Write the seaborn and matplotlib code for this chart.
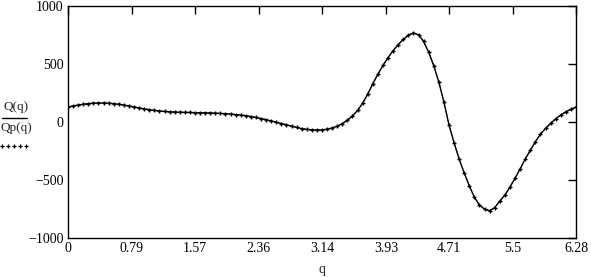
import numpy as np
import pandas as pd
import matplotlib
matplotlib.use("Agg")
import matplotlib.pyplot as plt
from matplotlib.lines import Line2D
import seaborn as sns

# q sampled at 101 points from 0 to 2*pi (step 0.0628)
q_vals = [0.000, 0.063, 0.126, 0.188, 0.251, 0.314, 0.377, 0.440, 0.502, 0.565,
          0.628, 0.691, 0.754, 0.816, 0.879, 0.942, 1.005, 1.068, 1.130, 1.193,
          1.256, 1.319, 1.382, 1.444, 1.507, 1.570, 1.633, 1.696, 1.758, 1.821,
          1.884, 1.947, 2.010, 2.072, 2.135, 2.198, 2.261, 2.324, 2.386, 2.449,
          2.512, 2.575, 2.638, 2.700, 2.763, 2.826, 2.889, 2.952, 3.014, 3.077,
          3.140, 3.203, 3.266, 3.328, 3.391, 3.454, 3.517, 3.580, 3.642, 3.705,
          3.768, 3.831, 3.894, 3.956, 4.019, 4.082, 4.145, 4.208, 4.270, 4.333,
          4.396, 4.459, 4.522, 4.584, 4.647, 4.710, 4.773, 4.836, 4.898, 4.961,
          5.024, 5.087, 5.150, 5.212, 5.275, 5.338, 5.401, 5.464, 5.526, 5.589,
          5.652, 5.715, 5.778, 5.840, 5.903, 5.966, 6.029, 6.092, 6.154, 6.217,
          6.280]
Q_vals = [129, 138, 146, 153, 158, 162, 164, 164, 162, 158,
          153, 146, 138, 130, 121, 113, 106, 100, 95, 91,
          88, 86, 84, 83, 82, 81, 80, 79, 78, 76,
          74, 71, 68, 64, 60, 54, 47, 39, 30, 20,
          9, -2, -13, -24, -36, -47, -57, -64, -68, -69,
          -68, -62, -52, -36, -14, 15, 52, 100, 162, 240,
          330, 412, 488, 555, 615, 668, 712, 748, 768, 752,
          695, 600, 485, 345, 172, -25, -180, -320, -440, -550,
          -650, -716, -752, -765, -738, -682, -630, -560, -485, -405,
          -320, -245, -170, -105, -55, -12, 28, 60, 88, 110,
          129]
x_ticks = [0, 0.79, 1.57, 2.36, 3.14, 3.93, 4.71, 5.5, 6.28]
x_tick_labels = ["0", "0.79", "1.57", "2.36", "3.14", "3.93", "4.71", "5.5", "6.28"]
y_ticks = [-1000, -500, 0, 500, 1000]

df = pd.DataFrame({"q": q_vals, "Q": Q_vals, "Qp": Q_vals})

sns.set_style("white")
plt.rcParams['font.family'] = ['Liberation Serif', 'DejaVu Serif']
plt.rcParams['font.size'] = 10

W, H = 591, 277
fig = plt.figure(figsize=(W / 100, H / 100), dpi=100)
ax = fig.add_axes([68 / W, 1 - 238 / H, (576 - 68) / W, (238 - 6) / H])

sns.lineplot(data=df, x="q", y="Q", ax=ax, color="black", lw=1.0, estimator=None, sort=False)
sns.lineplot(data=df, x="q", y="Qp", ax=ax, color="black", lw=0.8, linestyle=":",
             marker="+", markersize=3.2, markeredgewidth=1.0, markeredgecolor="black",
             estimator=None, sort=False)

ax.set_xlim(0, 6.28)
ax.set_ylim(-1000, 1000)
ax.set_xticks(x_ticks)
ax.set_xticklabels(x_tick_labels)
ax.set_yticks(y_ticks)
ax.tick_params(direction="in", length=5.8, width=1.0, top=True, right=True,
               labelright=False, labeltop=False, colors="black", pad=3, labelsize=10)
for s in ax.spines.values():
    s.set_color("black")
    s.set_linewidth(1.0)
ax.set_xlabel("q", fontsize=10, labelpad=6)
ax.set_ylabel("")

# Mathcad-style y-axis legend label
fig.text(16 / W, 1 - 107 / H, "Q(q)", ha="center", va="center", fontsize=9.5)
fig.add_artist(Line2D([2 / W, 27 / W], [1 - 118 / H, 1 - 118 / H], color="black", lw=1.0,
                      transform=fig.transFigure))
fig.text(16 / W, 1 - 128 / H, "Qp(q)", ha="center", va="center", fontsize=9.5)
xs = [2, 8, 14, 20, 26]
fig.add_artist(Line2D([x / W for x in xs], [1 - 146 / H] * len(xs), color="black", lw=0,
                      marker="+", markersize=3, markeredgewidth=0.9,
                      transform=fig.transFigure))

fig.savefig("out.png", dpi=100)
